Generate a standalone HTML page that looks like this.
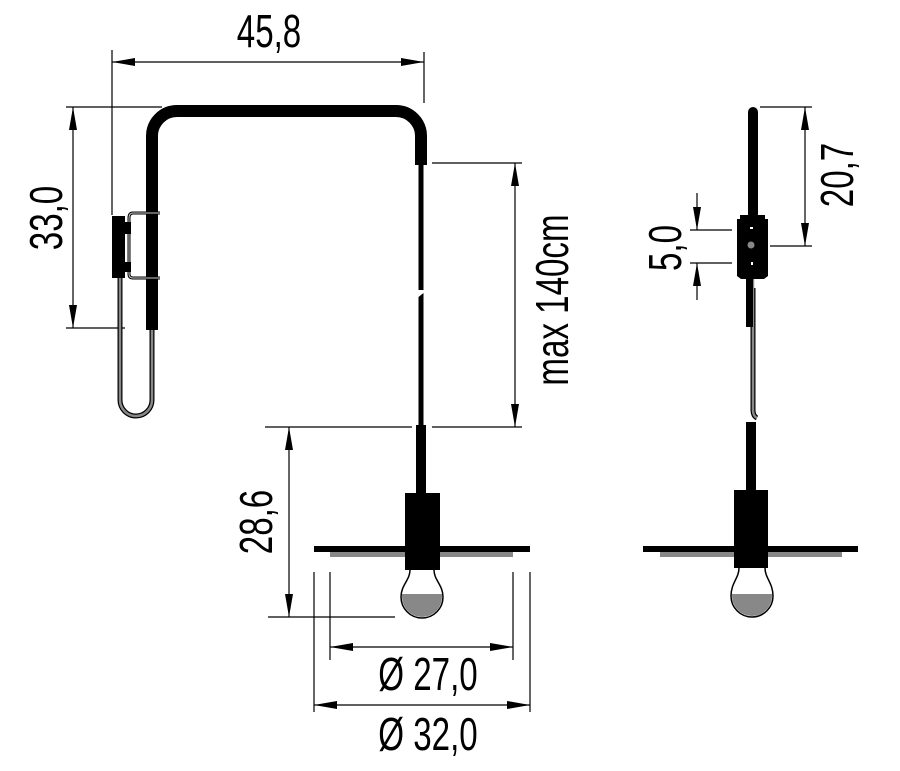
<!DOCTYPE html>
<html><head><meta charset="utf-8"><style>html,body{margin:0;padding:0;background:#fff}svg{display:block}</style></head><body>
<svg width="900" height="771" viewBox="0 0 900 771" xmlns="http://www.w3.org/2000/svg">
<defs>
<marker id="a" viewBox="0 0 23 8" refX="23" refY="4" markerWidth="23" markerHeight="8" markerUnits="userSpaceOnUse" orient="auto-start-reverse"><path d="M23,4 L0,0 L0,8 Z" fill="#000"/></marker>
</defs>
<g stroke="#000" stroke-width="1.2" fill="none">
<line x1="112" y1="50" x2="112" y2="215"/><line x1="424" y1="52" x2="424" y2="103"/>
<line x1="112" y1="62" x2="424" y2="62" marker-start="url(#a)" marker-end="url(#a)"/>
<line x1="66" y1="107" x2="162" y2="107"/><line x1="66" y1="328" x2="125" y2="328"/>
<line x1="73" y1="107" x2="73" y2="328" marker-start="url(#a)" marker-end="url(#a)"/>
<line x1="432" y1="163" x2="522" y2="163"/><line x1="265" y1="427" x2="412" y2="427"/><line x1="432" y1="427" x2="522" y2="427"/>
<line x1="515" y1="163" x2="515" y2="427" marker-start="url(#a)" marker-end="url(#a)"/>
<line x1="268" y1="617" x2="395" y2="617"/>
<line x1="289" y1="427" x2="289" y2="617" marker-start="url(#a)" marker-end="url(#a)"/>
<line x1="330" y1="572" x2="330" y2="660"/><line x1="513" y1="572" x2="513" y2="660"/>
<line x1="314" y1="572" x2="314" y2="712"/><line x1="530" y1="572" x2="530" y2="712"/>
<line x1="330" y1="647" x2="513" y2="647" marker-start="url(#a)" marker-end="url(#a)"/>
<line x1="314" y1="705" x2="530" y2="705" marker-start="url(#a)" marker-end="url(#a)"/>
<line x1="760" y1="107" x2="812" y2="107"/><line x1="770" y1="246" x2="812" y2="246"/>
<line x1="805" y1="107" x2="805" y2="246" marker-start="url(#a)" marker-end="url(#a)"/>
<line x1="690" y1="230" x2="732" y2="230"/><line x1="690" y1="263" x2="732" y2="263"/>
<line x1="697" y1="193" x2="697" y2="230" marker-end="url(#a)"/>
<line x1="697" y1="300" x2="697" y2="263" marker-end="url(#a)"/>
</g>

<path d="M120,278 L120,400 A16,16 0 0 0 152,400 L152,328" stroke="#000" stroke-width="5" fill="none"/>
<path d="M120,278 L120,400 A16,16 0 0 0 152,400 L152,328" stroke="#888" stroke-width="2.5" fill="none"/>
<path d="M152,330 L152,136 A25,25 0 0 1 177,111 L396,111 A25,25 0 0 1 421,136 L421,165" stroke="#000" stroke-width="12" fill="none"/>
<rect x="112" y="216" width="13" height="62" fill="#000"/>
<path d="M160,213 L133,213 Q129,213 129,218 L129,274 Q129,278 133,278 L160,278" stroke="#000" stroke-width="3" fill="none"/>
<path d="M160,213 L133,213 Q129,213 129,218 L129,274 Q129,278 133,278 L160,278" stroke="#ccc" stroke-width="1" fill="none"/>
<rect x="125" y="222" width="6" height="12" fill="#000"/><rect x="125" y="262" width="6" height="10" fill="#000"/>
<rect x="418.5" y="163" width="5" height="127" fill="#000"/>
<path d="M418.5,297 L423.5,293 L423.5,427 L418.5,427 Z" fill="#000"/>
<rect x="416" y="425" width="10" height="70" fill="#000"/>
<rect x="330" y="552" width="183" height="5" fill="#888"/>
<rect x="314" y="546" width="216" height="6" fill="#000"/>
<rect x="405" y="493" width="35" height="77" fill="#000"/>
<path d="M410,570 C410,580 401,585 401,597 A21,21 0 0 0 443,597 C443,585 434,580 434,570" fill="#fff" stroke="#000" stroke-width="1.5"/>
<path d="M402,594 L442,594 L442,597 A20,20 0 0 1 402,597 Z" fill="#888"/>

<path d="M753,288 L753,410 Q753,416 757,418" stroke="#000" stroke-width="5" fill="none"/>
<path d="M753,278 L753,410 Q753,416 757,418" stroke="#888" stroke-width="2.5" fill="none"/>
<rect x="748" y="107" width="10" height="112" rx="5" fill="#000"/>
<path d="M740,215 L765,215 L765,219 L768,219 L768,276 L764,279 L741,279 L737,276 L737,219 L740,219 Z" fill="#000"/>
<circle cx="751" cy="245" r="3.5" fill="#888"/>
<rect x="750" y="227" width="3" height="2" fill="#fff"/><rect x="751" y="262" width="2" height="3" fill="#fff"/>
<rect x="746" y="279" width="7" height="48" fill="#000"/>
<rect x="746" y="422" width="10" height="70" fill="#000"/>
<rect x="660" y="552" width="182" height="5" fill="#888"/>
<rect x="643" y="546" width="215" height="6" fill="#000"/>
<rect x="734" y="490" width="34" height="78" fill="#000"/>
<path d="M739,568 C739,578 731,583 731,596 A21,21 0 0 0 773,596 C773,583 765,578 765,568" fill="#fff" stroke="#000" stroke-width="1.5"/>
<path d="M732,594 L772,594 L772,596 A20,20 0 0 1 732,596 Z" fill="#888"/>

<g font-family="Liberation Sans, sans-serif" font-size="46" fill="#000" text-anchor="middle">
<text transform="translate(269,47) scale(0.72,1)">45,8</text>
<text transform="translate(62,218) rotate(-90) scale(0.72,1)">33,0</text>
<text transform="translate(568,300) rotate(-90) scale(0.72,1)">max 140cm</text>
<text transform="translate(272,522) rotate(-90) scale(0.72,1)">28,6</text>
<text transform="translate(428,690) scale(0.72,1)">Ø 27,0</text>
<text transform="translate(428,750) scale(0.72,1)">Ø 32,0</text>
<text transform="translate(853,175) rotate(-90) scale(0.72,1)">20,7</text>
<text transform="translate(681,248) rotate(-90) scale(0.72,1)">5,0</text>
</g>
</svg>
</body></html>
